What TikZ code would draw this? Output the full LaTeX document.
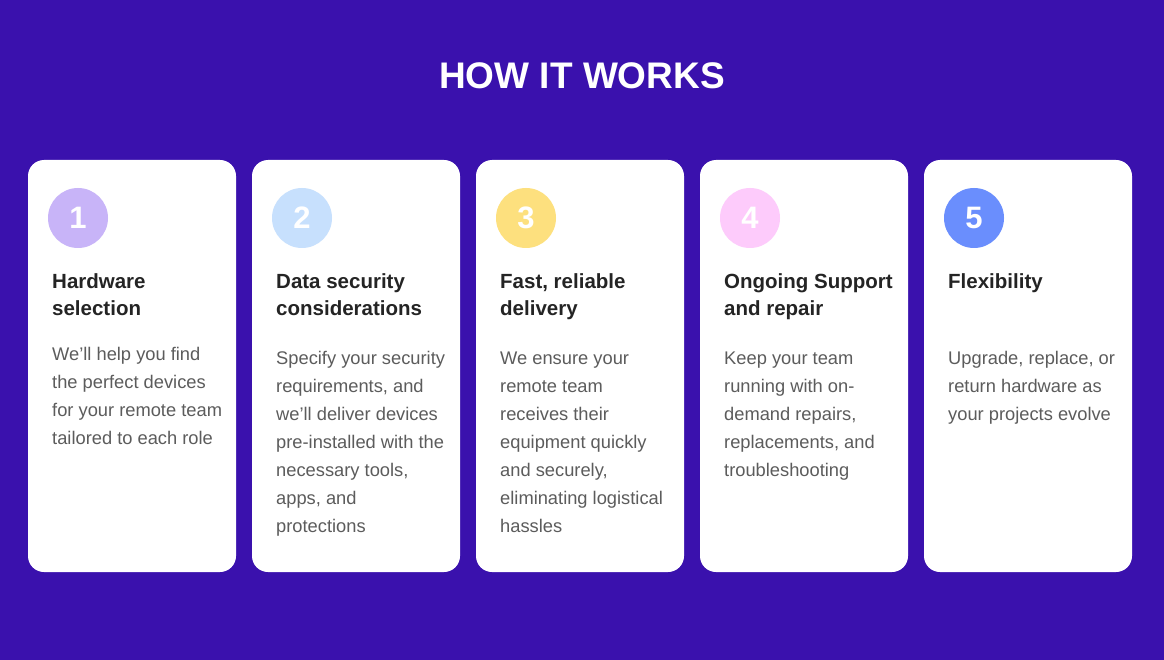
\documentclass[tikz,border=0pt]{standalone}
\usepackage{fontspec}
\setmainfont{Liberation Sans}
\definecolor{bgc}{RGB}{58,17,173}
\definecolor{headc}{RGB}{36,36,36}
\definecolor{bodyc}{RGB}{92,92,92}
\definecolor{c1}{RGB}{200,180,248}
\definecolor{c2}{RGB}{199,224,253}
\definecolor{c3}{RGB}{253,224,126}
\definecolor{c4}{RGB}{253,203,251}
\definecolor{c5}{RGB}{106,142,253}
\tikzset{
  card/.style={fill=white, rounded corners=16pt},
  numcirc/.style={circle, minimum size=60pt, inner sep=0pt, text=white, font=\fontsize{31}{31}\selectfont\bfseries},
  head/.style={anchor=base west, inner sep=0pt, text=headc, font=\fontsize{20.5}{28}\selectfont\bfseries},
  body/.style={anchor=base west, inner sep=0pt, text=bodyc, font=\fontsize{18.3}{28}\selectfont},
}
\begin{document}
\begin{tikzpicture}[x=1pt,y=-1pt]
\fill[bgc] (0,0) rectangle (1164,660);
\useasboundingbox (0,0) rectangle (1164,660);
\node[anchor=base, text=white, inner sep=0pt, font=\fontsize{37}{37}\selectfont\bfseries] (title) at (582,89) {HOW IT WORKS};
% cards
\foreach \x/\n in {28/1,252/2,476/3,700/4,924/5}{
  \fill[card] (\x,160) rectangle ++(208,412);
}
% circles
\node[numcirc, fill=c1] (n1) at (78,218) {1};
\node[numcirc, fill=c2] (n2) at (302,218) {2};
\node[numcirc, fill=c3] (n3) at (526,218) {3};
\node[numcirc, fill=c4] (n4) at (750,218) {4};
\node[numcirc, fill=c5] (n5) at (974,218) {5};
% headings
\node[head] (h1a) at (52,288) {Hardware};
\node[head] (h1b) at (52,316) {selection};
\node[head] (h2a) at (276,288) {Data security};
\node[head] (h2b) at (276,316) {considerations};
\node[head] (h3a) at (500,288) {Fast, reliable};
\node[head] (h3b) at (500,316) {delivery};
\node[head] (h4a) at (724,288) {Ongoing Support};
\node[head] (h4b) at (724,316) {and repair};
\node[head] (h5a) at (948,288) {Flexibility};
% bodies
\node[body] (b1a) at (52,360) {We’ll help you find};
\node[body] (b1b) at (52,388) {the perfect devices};
\node[body] (b1c) at (52,416) {for your remote team};
\node[body] (b1d) at (52,444) {tailored to each role};
\node[body] (b2a) at (276,364) {Specify your security};
\node[body] (b2b) at (276,392) {requirements, and};
\node[body] (b2c) at (276,420) {we’ll deliver devices};
\node[body] (b2d) at (276,448) {pre-installed with the};
\node[body] (b2e) at (276,476) {necessary tools,};
\node[body] (b2f) at (276,504) {apps, and};
\node[body] (b2g) at (276,532) {protections};
\node[body] (b3a) at (500,364) {We ensure your};
\node[body] (b3b) at (500,392) {remote team};
\node[body] (b3c) at (500,420) {receives their};
\node[body] (b3d) at (500,448) {equipment quickly};
\node[body] (b3e) at (500,476) {and securely,};
\node[body] (b3f) at (500,504) {eliminating logistical};
\node[body] (b3g) at (500,532) {hassles};
\node[body] (b4a) at (724,364) {Keep your team};
\node[body] (b4b) at (724,392) {running with on-};
\node[body] (b4c) at (724,420) {demand repairs,};
\node[body] (b4d) at (724,448) {replacements, and};
\node[body] (b4e) at (724,476) {troubleshooting};
\node[body] (b5a) at (948,364) {Upgrade, replace, or};
\node[body] (b5b) at (948,392) {return hardware as};
\node[body] (b5c) at (948,420) {your projects evolve};
\end{tikzpicture}
\end{document}
